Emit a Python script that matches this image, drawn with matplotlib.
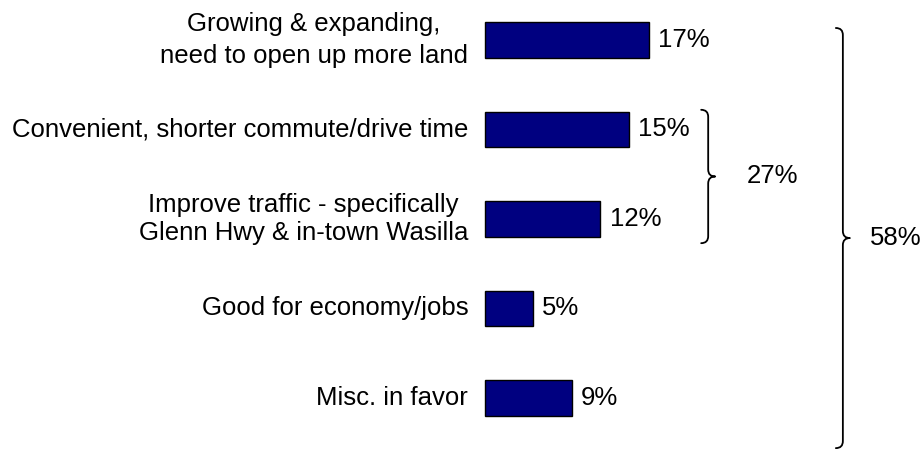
import matplotlib
matplotlib.use("Agg")
import matplotlib.pyplot as plt
from matplotlib.path import Path
from matplotlib.patches import PathPatch

# Reasons given in favor (percent of respondents)
categories = [
    "Growing & expanding,\nneed to open up more land",
    "Convenient, shorter commute/drive time",
    "Improve traffic - specifically\nGlenn Hwy & in-town Wasilla",
    "Good for economy/jobs",
    "Misc. in favor",
]
values = [17, 15, 12, 5, 9]
line_gaps = [1.42, 1.15, 1.22, 1.15, 1.15]

# Groups summarised by braces: (first index, last index)
inner_group = (1, 2)
outer_group = (0, 4)

plt.rcParams["font.family"] = ["Liberation Sans", "DejaVu Sans"]
FS = 18.5

W, H = 921, 453
fig = plt.figure(figsize=(W / 100, H / 100), dpi=100)
ax = fig.add_axes([0, 0, 1, 1])

# horizontal scale: bars start at x=0; vertical: one unit per category
px_per_pct = 9.62
px_per_row = 89.5
x0_px, y0_px = 485, 40
ax.set_xlim(-x0_px / px_per_pct, (W - x0_px) / px_per_pct)
ax.set_ylim((H - y0_px) / px_per_row, -y0_px / px_per_row)
ax.axis("off")

ys = list(range(len(values)))
ax.barh(ys, values, height=0.40, color="#000080", edgecolor="black", linewidth=1.0)

for y, lab, v, gap in zip(ys, categories, values, line_gaps):
    ax.text(-1.75, y, lab, ha="right", va="center", multialignment="center",
            fontsize=FS, linespacing=gap)
    ax.text(v + 0.95, y, f"{v}%", ha="left", va="center", fontsize=FS)


def brace(ax, xc, top, bot, lw=1.3):
    rx = 7 / px_per_pct
    ry = 7 / px_per_row
    mid = (top + bot) / 2
    verts = [
        (xc - rx, top), (xc, top), (xc, top + ry),
        (xc, mid - ry),
        (xc, mid), (xc + rx, mid),
        (xc, mid), (xc, mid + ry),
        (xc, bot - ry),
        (xc, bot), (xc - rx, bot),
    ]
    codes = [
        Path.MOVETO, Path.CURVE3, Path.CURVE3,
        Path.LINETO,
        Path.CURVE3, Path.CURVE3,
        Path.CURVE3, Path.CURVE3,
        Path.LINETO,
        Path.CURVE3, Path.CURVE3,
    ]
    ax.add_patch(PathPatch(Path(verts, codes), fill=False, edgecolor="black",
                           linewidth=lw, capstyle="round", joinstyle="round"))
    return mid


# inner brace spans the two traffic-related reasons
a, b = inner_group
mid = brace(ax, 23.2, a - 0.22, b + 0.27)
ax.text(27.2, mid, f"{sum(values[a:b + 1])}%", ha="left", va="center", fontsize=FS)

# outer brace spans all reasons
a, b = outer_group
mid = brace(ax, 37.2, a - 0.134, b + 0.56)
ax.text(40.0, mid, f"{sum(values[a:b + 1])}%", ha="left", va="center", fontsize=FS)

fig.savefig("out.png", dpi=100, facecolor="white")
